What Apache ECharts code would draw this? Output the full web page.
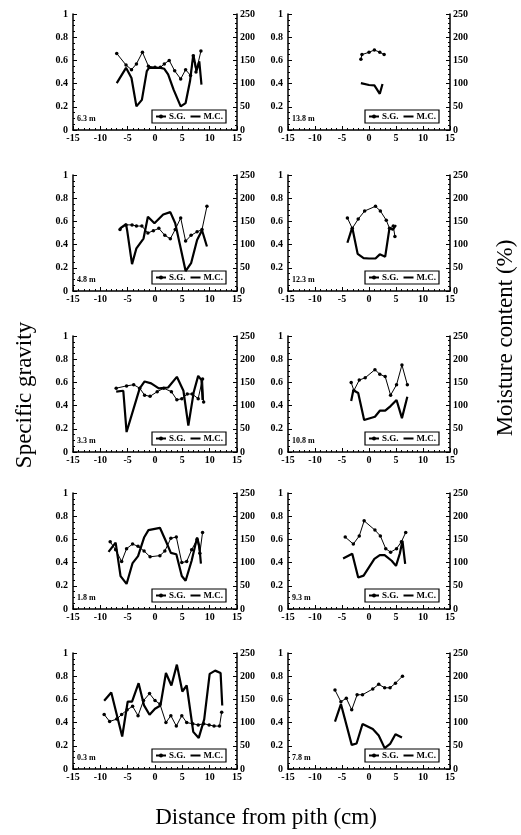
<!DOCTYPE html>
<html>
<head>
<meta charset="utf-8">
<script src="https://cdn.jsdelivr.net/npm/echarts@6/dist/echarts.min.js"></script>
<style>
  html, body { margin: 0; padding: 0; background: #fff; }
  #main { width: 521px; height: 835px; }
</style>
</head>
<body>
<div id="main"></div>
<script>
// tree heights, in panel order (left, right per row)
var heights = ['6.3 m', '13.8 m', '4.8 m', '12.3 m', '3.3 m', '10.8 m', '1.8 m', '9.3 m', '0.3 m', '7.8 m'];

// [distance from pith (cm), specific gravity]
var sg63 = [[-7,0.66],[-5.3,0.56],[-4.3,0.52],[-3.4,0.57],[-2.3,0.67],[-1.2,0.55],[0,0.54],[1,0.54],[1.7,0.57],[2.6,0.6],[3.6,0.51],[4.7,0.44],[5.6,0.52],[6.5,0.47],[7,0.64],[7.5,0.5],[8.4,0.68]];
var sg138 = [[-1.5,0.61],[-1.3,0.65],[0,0.67],[1,0.69],[2,0.67],[2.8,0.65]];
var sg48 = [[-6.4,0.53],[-5.3,0.57],[-4.2,0.57],[-3.4,0.56],[-2.4,0.56],[-1.3,0.5],[-0.3,0.52],[0.7,0.54],[1.8,0.48],[2.8,0.45],[3.7,0.53],[4.7,0.63],[5.6,0.43],[6.6,0.48],[7.7,0.51],[8.6,0.53],[9.5,0.73]];
var sg123 = [[-4,0.63],[-3.1,0.54],[-2,0.62],[-0.8,0.69],[1.2,0.73],[2.1,0.69],[3.2,0.61],[3.8,0.54],[4.5,0.56],[4.8,0.47]];
var sg33 = [[-7.1,0.55],[-5.2,0.57],[-3.9,0.58],[-2.8,0.55],[-1.9,0.49],[-0.9,0.48],[0.4,0.52],[1.6,0.55],[3,0.52],[4,0.45],[4.9,0.46],[5.9,0.5],[6.8,0.5],[7.9,0.46],[8.7,0.63],[8.9,0.43]];
var sg108 = [[-3.3,0.6],[-2.8,0.53],[-1.8,0.62],[-0.7,0.64],[1.1,0.71],[2,0.67],[3,0.65],[4,0.49],[5.1,0.58],[6.1,0.75],[7.1,0.58]];
var sg18 = [[-8.2,0.58],[-7.2,0.51],[-6.1,0.41],[-5.2,0.52],[-4.1,0.56],[-3.1,0.54],[-2,0.5],[-0.9,0.45],[0.9,0.46],[1.8,0.5],[2.9,0.61],[3.9,0.62],[4.9,0.4],[5.8,0.41],[6.7,0.51],[7.7,0.6],[8.2,0.48],[8.7,0.66]];
var sg93 = [[-4.4,0.62],[-2.9,0.56],[-1.8,0.63],[-0.9,0.76],[1.1,0.68],[2.1,0.63],[3.1,0.52],[4,0.49],[5.1,0.52],[6,0.58],[6.8,0.66]];
var sg03 = [[-9.3,0.47],[-8.3,0.41],[-7,0.43],[-6.1,0.47],[-5.1,0.51],[-4.1,0.54],[-3.1,0.46],[-2.1,0.59],[-1,0.65],[0,0.59],[0.9,0.56],[2,0.4],[2.9,0.46],[3.9,0.37],[4.9,0.46],[5.8,0.4],[6.9,0.39],[7.9,0.38],[8.9,0.39],[9.9,0.38],[10.8,0.37],[11.8,0.37],[12.2,0.49]];
var sg78 = [[-6.3,0.68],[-5.2,0.58],[-4.2,0.61],[-3.2,0.51],[-2.2,0.64],[-1.2,0.64],[0.7,0.69],[1.8,0.73],[2.9,0.7],[3.9,0.7],[4.9,0.74],[6.2,0.8]];

// [distance from pith (cm), moisture content (%)]
var mc63 = [[-7,101],[-5.3,134],[-4.3,112],[-3.4,51],[-2.4,65],[-1.5,127],[-1.1,134],[0,134],[1,134],[1.7,132],[2.4,120],[3.4,87],[4.7,51],[5.6,58],[6.4,105],[7,162],[7.6,128],[8.1,148],[8.5,98]];
var mc138 = [[-1.5,101],[0,97],[1,96],[2,78],[2.5,99]];
var mc48 = [[-6.4,135],[-5.3,144],[-5.1,131],[-4.2,58],[-3.4,92],[-2.1,113],[-1.3,160],[-0.1,146],[1.5,165],[2.8,170],[3.7,146],[4.7,92],[5.6,43],[6.6,60],[7.7,110],[8.6,131],[9.5,96]];
var mc123 = [[-4,104],[-3.1,137],[-2.1,80],[-1,71],[0,70],[1.2,70],[2,79],[3,74],[3.8,136],[4.4,132],[5,142]];
var mc33 = [[-7.1,130],[-5.8,132],[-5.2,43],[-2.8,137],[-1.9,152],[-0.7,148],[0.7,137],[2.4,139],[4,162],[5.2,132],[6.1,57],[7.1,130],[7.9,164],[8.5,155],[8.7,112]];
var mc108 = [[-3.3,110],[-2.9,133],[-2,127],[-0.9,69],[1.1,76],[2,89],[3,89],[4,99],[5.1,112],[6.1,73],[7.1,119]];
var mc18 = [[-8.5,123],[-7.2,143],[-6.3,71],[-5.2,54],[-4.1,99],[-3.1,114],[-2,154],[-1.2,170],[0.9,175],[2,146],[2.9,121],[3.9,118],[4.9,71],[5.6,61],[6.7,104],[7.7,154],[8.1,136],[8.4,98]];
var mc93 = [[-4.8,109],[-3.1,119],[-2,68],[-1,72],[1,108],[2,116],[2.9,116],[4.2,104],[5,93],[5.7,119],[6.2,147],[6.7,97]];
var mc03 = [[-9.3,147],[-8,165],[-6,70],[-5,145],[-4.2,145],[-3,185],[-2,137],[-1,117],[0,130],[1,137],[2,207],[3,180],[4,225],[5,167],[5.8,180],[7,80],[8,67],[9,107],[10,205],[11,212],[12,207],[12.3,137]];
var mc78 = [[-6.3,102],[-5.2,140],[-3.2,52],[-2.3,55],[-1.2,97],[0.7,86],[1.8,72],[2.9,45],[3.9,54],[4.9,75],[6.1,68]];

var sgAll = [sg63, sg138, sg48, sg123, sg33, sg108, sg18, sg93, sg03, sg78];
var mcAll = [mc63, mc138, mc48, mc123, mc33, mc108, mc18, mc93, mc03, mc78];

var colLeft = [73, 288];
var colWidth = [164, 162];
var rowTop = [14, 175, 336, 493, 653];
var panelH = 116;

// plain thick dash for the M.C. legend entry
var dashIcon = 'path://M0,0H0.01V0.01H0ZM0,1.6H10V3.4H0ZM9.99,4.99H10V5H9.99Z';

function makeAxis(extra, minorSplit, margin) {
    var a = {
        type: 'value',
        axisLine: { show: true, onZero: false, lineStyle: { color: '#000', width: 1.5 } },
        axisTick: { show: true, inside: true, length: 4, lineStyle: { color: '#000', width: 1 } },
        minorTick: { show: true, splitNumber: minorSplit, length: 2, lineStyle: { color: '#000', width: 1 } },
        splitLine: { show: false },
        axisLabel: { margin: margin, fontFamily: 'Liberation Serif', fontWeight: 'bold', fontSize: 10, color: '#000' }
    };
    for (var k in extra) a[k] = extra[k];
    return a;
}

function buildOption() {
    var grids = [], xAxes = [], yAxes = [], series = [], legends = [], titles = [];
    for (var i = 0; i < heights.length; i++) {
        var col = i % 2, row = Math.floor(i / 2);
        var gLeft = colLeft[col], gTop = rowTop[row], gW = colWidth[col];
        grids.push({ left: gLeft, top: gTop, width: gW, height: panelH });

        xAxes.push(makeAxis({ gridIndex: i, min: -15, max: 15, interval: 5 }, 5, 3));
        yAxes.push(makeAxis({ gridIndex: i, min: 0, max: 1, interval: 0.2, position: 'left' }, 4, 5));
        yAxes.push(makeAxis({ gridIndex: i, min: 0, max: 250, interval: 50, position: 'right' }, 5, 3));

        series.push({
            name: 'S.G.', type: 'line', xAxisIndex: i, yAxisIndex: 2 * i,
            data: sgAll[i], symbol: 'circle', symbolSize: 3.5,
            itemStyle: { color: '#000' }, lineStyle: { color: '#000', width: 1 }
        });
        series.push({
            name: 'M.C.', type: 'line', xAxisIndex: i, yAxisIndex: 2 * i + 1,
            data: mcAll[i], symbol: 'none',
            itemStyle: { color: '#000' }, lineStyle: { color: '#000', width: 2.2 }
        });

        legends.push({
            data: ['S.G.', { name: 'M.C.', icon: dashIcon }],
            right: 521 - (gLeft + gW) + 11, top: gTop + panelH - 20,
            itemWidth: 10, itemHeight: 5, itemGap: 5,
            padding: [2, 3], borderColor: '#000', borderWidth: 1.2,
            selectedMode: false,
            textStyle: { fontFamily: 'Liberation Serif', fontWeight: 'bold', fontSize: 9, color: '#000', padding: [0, 0, 0, -2] }
        });

        titles.push({
            text: heights[i], left: gLeft + 4, top: gTop + panelH - 15, padding: 0,
            textStyle: { fontFamily: 'Liberation Serif', fontWeight: 'bold', fontSize: 8, color: '#000' }
        });
    }
    return {
        backgroundColor: '#fff',
        animation: false,
        title: titles,
        legend: legends,
        grid: grids,
        xAxis: xAxes,
        yAxis: yAxes,
        series: series,
        graphic: [
            {
                type: 'text', x: 25, y: 395, rotation: Math.PI / 2,
                style: { text: 'Specific gravity', font: '23px "Liberation Serif"', fill: '#000', align: 'center', verticalAlign: 'middle' }
            },
            {
                type: 'text', x: 506, y: 338, rotation: Math.PI / 2,
                style: { text: 'Moisture content (%)', font: '23px "Liberation Serif"', fill: '#000', align: 'center', verticalAlign: 'middle' }
            },
            {
                type: 'text', x: 266, y: 818,
                style: { text: 'Distance from pith (cm)', font: '23px "Liberation Serif"', fill: '#000', align: 'center', verticalAlign: 'middle' }
            }
        ]
    };
}

var myChart = echarts.init(document.getElementById('main'));
myChart.setOption(buildOption());
</script>
</body>
</html>
